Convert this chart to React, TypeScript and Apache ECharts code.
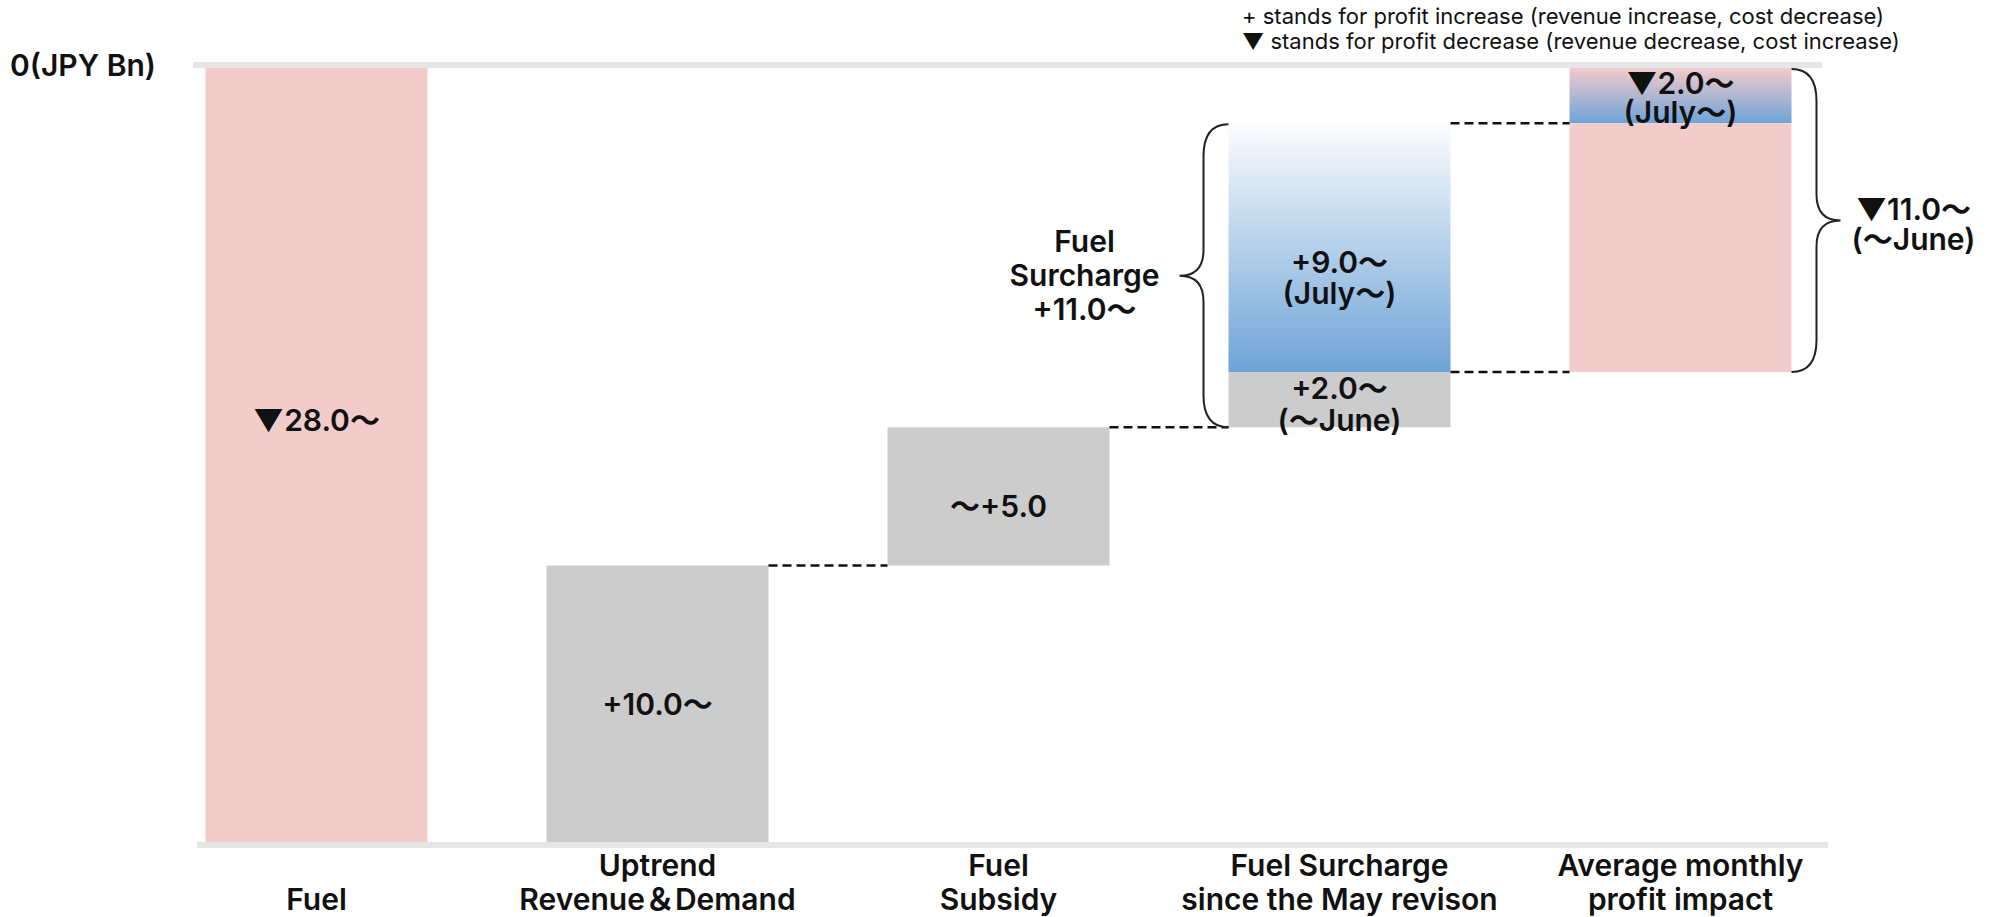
import React, { useEffect, useRef } from "react";
import * as echarts from "echarts";

// ---- data (JPY Bn) ----
const categories = [
  "\nFuel",
  "Uptrend\nRevenue＆Demand",
  "Fuel\nSubsidy",
  "Fuel Surcharge\nsince the May revison",
  "Average monthly\nprofit impact",
];

// level where each column starts (top of the floating column)
const columnTop = [0, -18, -13, -2, 0];
// upper segment of each column (July~ parts)
const upperPart: (number | string)[] = ["-", "-", "-", -9, -2];
// lower segment of each column
const lowerPart = [-28, -10, -5, -2, -9];

const upperLabels = ["", "", "", "+9.0～\n(July～)", "▼2.0～\n(July～)"];
const lowerLabels = ["▼28.0～", "+10.0～", "～+5.0", "+2.0～\n(～June)", ""];

// dashed connectors: [from column, to column, level]
const connectors = [
  [1, 2, -18],
  [2, 3, -13],
  [3, 4, -11],
  [3, 4, -2],
];

// braces: [column, top level, bottom level, side (-1 left, 1 right)]
const braces = [
  [3, -2, -13, -1],
  [4, 0, -11, 1],
];
const braceTexts = ["Fuel\nSurcharge\n+11.0～", "▼11.0～\n(～June)"];

const notes = [
  "+ stands for profit increase (revenue increase, cost decrease)",
  "▼ stands for profit decrease (revenue decrease, cost increase)",
];
const unitLabel = "0(JPY Bn)";

// ---- styles ----
const FONT = 'Inter, "Noto Sans CJK JP", sans-serif';
const PINK = "#f2cbcb";
const GREY = "#cccccc";
const BAR_W = 222;
const blueGradient = new echarts.graphic.LinearGradient(0, 0, 0, 1, [
  { offset: 0, color: "#fcfdfe" },
  { offset: 1, color: "#6ea3d7" },
]);
const pinkBlueGradient = new echarts.graphic.LinearGradient(0, 0, 0, 1, [
  { offset: 0, color: "#f2cbcb" },
  { offset: 1, color: "#6ea3d7" },
]);
const upperColors: any[] = [null, null, null, blueGradient, pinkBlueGradient];
const lowerColors = [PINK, GREY, GREY, GREY, PINK];
const lowerOffsets = [[0, -35], [0, 0], [0, 10], [0, 4], [0, 0]];
const upperOffsets = [[0, 0], [0, 0], [0, 0], [0, 30], [0, 2]];

const FS = 30;
const FW = 600;
const labelStyle = {
  color: "#111",
  fontFamily: FONT,
  fontSize: FS,
  fontWeight: FW as any,
  lineHeight: 30,
};

export default function App() {
  const ref = useRef<HTMLDivElement>(null);

  useEffect(() => {
    if (!ref.current) return;
    const chart = echarts.init(ref.current, undefined, { renderer: "svg" });

    const option: any = {
      animation: false,
      backgroundColor: "#ffffff",
      grid: { left: 146, right: 146, top: 68, bottom: 75, outerBoundsMode: "none" },
      xAxis: {
        type: "category",
        data: categories,
        axisLine: { show: false },
        axisTick: { show: false },
        splitLine: { show: false },
        axisLabel: {
          interval: 0,
          margin: 6,
          color: "#111",
          fontFamily: FONT,
          fontSize: FS,
          fontWeight: FW,
          lineHeight: 34,
        },
      },
      yAxis: {
        type: "value",
        min: -28,
        max: 0,
        show: false,
      },
      series: [
        {
          type: "bar",
          stack: "w",
          barWidth: BAR_W,
          data: columnTop,
          itemStyle: { color: "transparent" },
          silent: true,
        },
        {
          type: "bar",
          stack: "w",
          barWidth: BAR_W,
          data: upperPart.map((v, i) => ({
            value: v,
            itemStyle: { color: upperColors[i] || "transparent" },
            label: {
              show: !!upperLabels[i],
              position: "inside",
              offset: upperOffsets[i],
              formatter: upperLabels[i],
              ...labelStyle,
              lineHeight: i === 4 ? 29 : 31,
            },
          })),
        },
        {
          type: "bar",
          stack: "w",
          barWidth: BAR_W,
          data: lowerPart.map((v, i) => ({
            value: v,
            itemStyle: { color: lowerColors[i] },
            label: {
              show: !!lowerLabels[i],
              position: "inside",
              offset: lowerOffsets[i],
              formatter: lowerLabels[i],
              ...labelStyle,
              lineHeight: 32,
            },
          })),
        },
        {
          type: "custom",
          data: connectors,
          encode: { x: [0, 1], y: 2 },
          z: 5,
          renderItem: (_params: any, api: any) => {
            const a = api.coord([api.value(0), api.value(2)]);
            const b = api.coord([api.value(1), api.value(2)]);
            return {
              type: "line",
              shape: { x1: a[0] + BAR_W / 2, y1: a[1], x2: b[0] - BAR_W / 2, y2: b[1] },
              style: { stroke: "#111", lineWidth: 2.5, lineDash: [9, 5] },
            };
          },
        },
        {
          type: "custom",
          data: braces,
          encode: { x: 0, y: [1, 2] },
          z: 5,
          renderItem: (params: any, api: any) => {
            const idx = api.value(0);
            const side = api.value(3);
            const pTop = api.coord([idx, api.value(1)]);
            const pBot = api.coord([idx, api.value(2)]);
            const xE = pTop[0] + (side * BAR_W) / 2;
            const xV = xE + side * 25;
            const xT = xE + side * 49;
            const y0 = pTop[1] + 1;
            const y1 = pBot[1];
            const ym = (y0 + y1) / 2;
            const r = 32;
            const rt = 26;
            const d =
              `M${xE},${y0} Q${xV},${y0} ${xV},${y0 + r} L${xV},${ym - rt} ` +
              `Q${xV},${ym} ${xT},${ym} Q${xV},${ym} ${xV},${ym + rt} ` +
              `L${xV},${y1 - r} Q${xV},${y1} ${xE},${y1}`;
            const text = braceTexts[params.dataIndex];
            const tx = side < 0 ? xT - 95 : xT + 73;
            const ty = side < 0 ? ym - 1 : ym + 3;
            return {
              type: "group",
              children: [
                {
                  type: "path",
                  shape: { pathData: d },
                  style: { stroke: "#222", lineWidth: 2, fill: "none" },
                },
                {
                  type: "text",
                  x: tx,
                  y: ty,
                  style: {
                    text,
                    fill: "#111",
                    fontFamily: FONT,
                    fontSize: FS,
                    fontWeight: FW,
                    lineHeight: side < 0 ? 34 : 30,
                    align: "center",
                    verticalAlign: "middle",
                    textAlign: "center",
                    textVerticalAlign: "middle",
                  },
                },
              ],
            };
          },
        },
      ],
      graphic: [
        {
          type: "rect",
          z: 1,
          shape: { x: 193, y: 62, width: 1629, height: 6 },
          style: { fill: "#e6e6e6" },
        },
        {
          type: "rect",
          z: 1,
          shape: { x: 197, y: 842, width: 1631, height: 6 },
          style: { fill: "#e6e6e6" },
        },
        {
          type: "text",
          x: 10,
          y: 65,
          style: {
            text: unitLabel,
            fill: "#111",
            fontFamily: FONT,
            fontSize: FS,
            fontWeight: FW,
            align: "left",
            verticalAlign: "middle",
            textAlign: "left",
            textVerticalAlign: "middle",
          },
        },
        {
          type: "text",
          x: 1242,
          y: 28,
          style: {
            text: notes.join("\n"),
            fill: "#111",
            fontFamily: FONT,
            fontSize: 22,
            fontWeight: 400,
            lineHeight: 25,
            align: "left",
            verticalAlign: "middle",
            textAlign: "left",
            textVerticalAlign: "middle",
          },
        },
      ],
    };

    chart.setOption(option);
    return () => chart.dispose();
  }, []);

  return (
    <div
      ref={ref}
      style={{ position: "fixed", left: 0, top: 0, width: 1997, height: 917, background: "#fff" }}
    />
  );
}
